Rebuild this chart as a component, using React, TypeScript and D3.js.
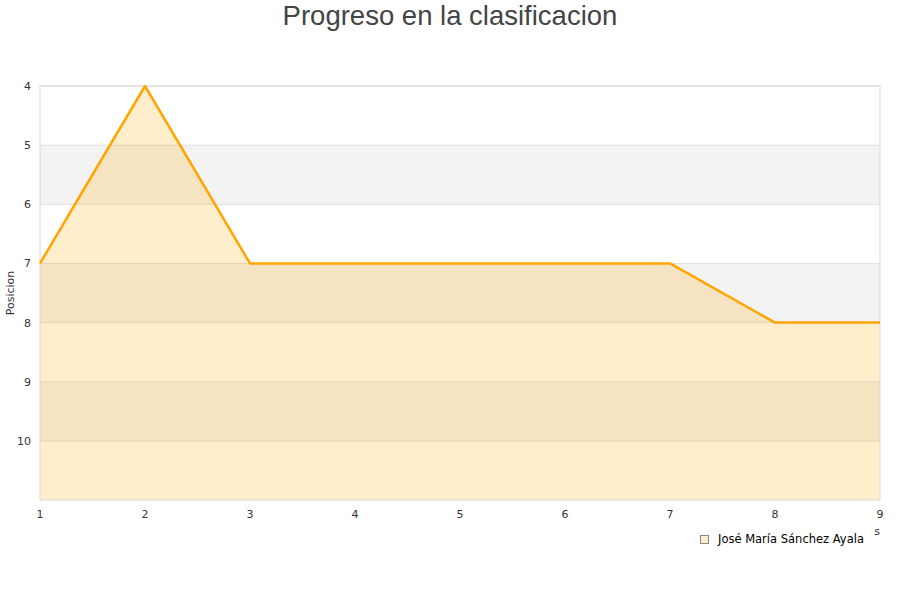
import React from "react";
import * as d3 from "d3";

// Matchday numbers and league positions for the player
const jornadas = [1, 2, 3, 4, 5, 6, 7, 8, 9];
const posiciones = [7, 4, 7, 7, 7, 7, 7, 8, 8];
const yTicks = [4, 5, 6, 7, 8, 9, 10];
const seriesName = "José María Sánchez Ayala";
const chartTitle = "Progreso en la clasificacion";
const yTitle = "Posicion";
const xTitle = "Jornadas";

const W = 900;
const H = 600;
const M = { left: 40, right: 20, top: 86, bottom: 100 };

export default function App() {
  const x = d3.scaleLinear().domain([1, 9]).range([M.left, W - M.right]);
  const y = d3.scaleLinear().domain([4, 11]).range([M.top, H - M.bottom]);

  const pts = jornadas.map((j, i) => [j, posiciones[i]] as [number, number]);
  const line = d3
    .line<[number, number]>()
    .x((d) => x(d[0]))
    .y((d) => y(d[1]));
  const area = d3
    .area<[number, number]>()
    .x((d) => x(d[0]))
    .y0(y(11))
    .y1((d) => y(d[1]));

  const bands = d3.range(4, 11);
  const font = "'DejaVu Sans', sans-serif";

  return (
    <svg
      width={W}
      height={H}
      style={{ position: "absolute", left: 0, top: 0, background: "#fff" }}
    >
      <text
        x={W / 2}
        y={25}
        textAnchor="middle"
        fontFamily="'Liberation Sans', Arial, sans-serif"
        fontSize={27.5}
        fill="#444"
      >
        {chartTitle}
      </text>

      {/* alternating horizontal bands */}
      {bands.map((b, i) => (
        <rect
          key={b}
          x={M.left}
          y={y(b)}
          width={W - M.right - M.left}
          height={y(b + 1) - y(b)}
          fill={i % 2 === 1 ? "#f3f3f3" : "#ffffff"}
        />
      ))}
      {/* grid lines */}
      {yTicks.map((t) => (
        <line
          key={t}
          x1={M.left}
          x2={W - M.right}
          y1={y(t)}
          y2={y(t)}
          stroke="#e0e0e0"
          strokeWidth={1}
        />
      ))}

      <path d={area(pts) ?? ""} fill="#ffa500" fillOpacity={0.2} />

      {/* plot frame */}
      <rect
        x={M.left}
        y={M.top}
        width={W - M.right - M.left}
        height={H - M.bottom - M.top}
        fill="none"
        stroke="#d8d8d8"
        strokeWidth={1}
      />

      <path
        d={line(pts) ?? ""}
        fill="none"
        stroke="#ffa500"
        strokeWidth={2.5}
        strokeLinejoin="round"
      />

      {yTicks.map((t) => (
        <text
          key={t}
          x={31}
          y={y(t) + 4}
          textAnchor="end"
          fontFamily={font}
          fontSize={11}
          fill="#333"
        >
          {t}
        </text>
      ))}
      {jornadas.map((j) => (
        <text
          key={j}
          x={x(j)}
          y={518}
          textAnchor="middle"
          fontFamily={font}
          fontSize={11}
          fill="#333"
        >
          {j}
        </text>
      ))}

      <text
        transform={`translate(14,${(M.top + H - M.bottom) / 2}) rotate(-90)`}
        textAnchor="middle"
        fontFamily={font}
        fontSize={11}
        fill="#333"
      >
        {yTitle}
      </text>

      <text
        x={W - M.right}
        y={535}
        textAnchor="end"
        fontFamily={font}
        fontSize={11}
        fill="#333"
      >
        {xTitle}
      </text>

      {/* legend */}
      <g>
        <rect x={690} y={525.5} width={184} height={26} fill="#fff" />
        <rect
          x={700.5}
          y={535.5}
          width={8}
          height={8}
          fill="#ffa500"
          fillOpacity={0.2}
          stroke="#888"
          strokeWidth={1}
        />
        <text x={718} y={543} fontFamily={font} fontSize={11.5} fill="#000">
          {seriesName}
        </text>
      </g>
    </svg>
  );
}
